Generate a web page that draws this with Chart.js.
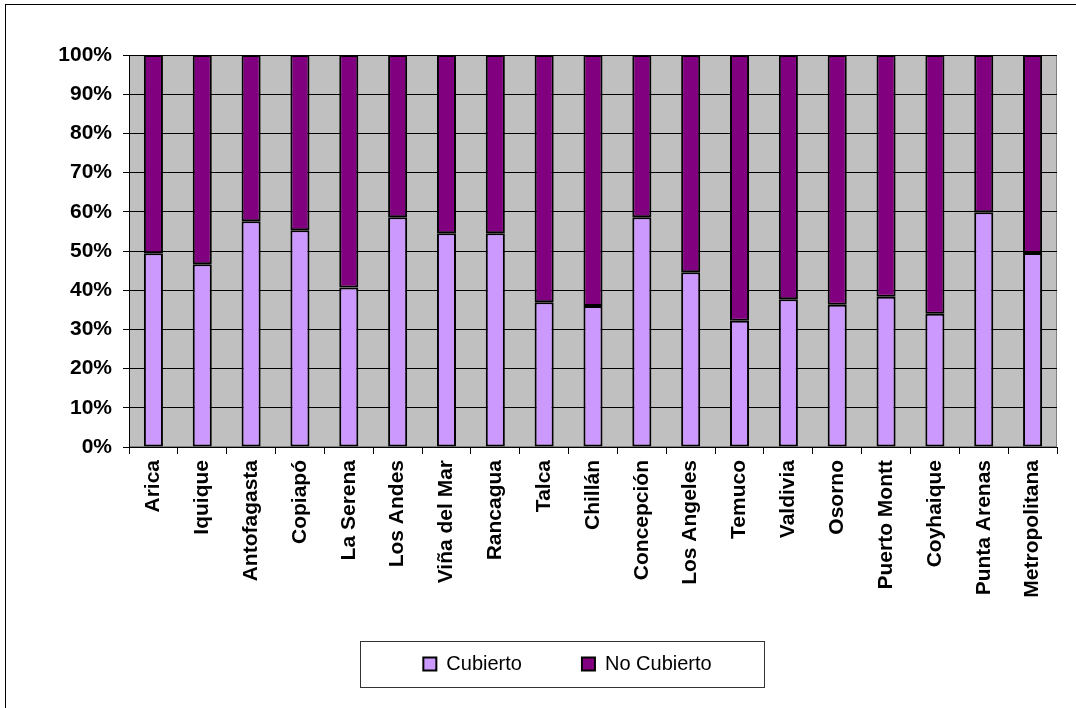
<!DOCTYPE html>
<html>
<head>
<meta charset="utf-8">
<script src="https://cdn.jsdelivr.net/npm/chart.js@4/dist/chart.umd.min.js"></script>
<style>
  html, body { margin: 0; padding: 0; background: #fff; }
  #wrap { width: 1076px; height: 708px; position: relative; }
</style>
</head>
<body>
<div id="wrap"><canvas id="chart" width="1076" height="708"></canvas></div>
<script>
"use strict";

// Ciudades (categorías)
const ciudades = ["Arica", "Iquique", "Antofagasta", "Copiapó", "La Serena", "Los Andes",
    "Viña del Mar", "Rancagua", "Talca", "Chillán", "Concepción", "Los Angeles", "Temuco",
    "Valdivia", "Osorno", "Puerto Montt", "Coyhaique", "Punta Arenas", "Metropolitana"];

// Porcentaje cubierto
const cubierto = [49.4, 46.6, 57.6, 55.3, 40.7, 58.6, 54.5, 54.5, 36.9, 36.0,
    58.6, 44.6, 32.2, 37.7, 36.3, 38.3, 34.0, 59.9, 49.5];

// Porcentaje no cubierto
const noCubierto = [50.6, 53.4, 42.4, 44.7, 59.3, 41.4, 45.5, 45.5, 63.1, 64.0,
    41.4, 55.4, 67.8, 62.3, 63.7, 61.7, 66.0, 40.1, 50.5];

// Etiquetas del eje y
const ticksY = [0, 10, 20, 30, 40, 50, 60, 70, 80, 90, 100];

Chart.defaults.font.family = "'Liberation Sans', Arial, sans-serif";
Chart.defaults.color = "#000";

// Fondo gris del área de trazado, marco exterior y marco de la leyenda
const fondoPlugin = {
    id: "fondo",
    afterLayout(chart) {
        // Corre la leyenda un poco (derecha y arriba), como en el original
        const lg = chart.legend;
        lg.left += 14;
        lg.right += 14;
        lg.top -= 10;
        lg.bottom -= 10;
    },
    beforeDraw(chart) {
        const { ctx, chartArea: a } = chart;
        ctx.save();
        ctx.fillStyle = "#fff";
        ctx.fillRect(0, 0, chart.width, chart.height);
        ctx.fillStyle = "#C0C0C0";
        ctx.fillRect(a.left, a.top, a.right - a.left, a.bottom - a.top);
        ctx.strokeStyle = "#808080";
        ctx.lineWidth = 1;
        ctx.strokeRect(a.left + 0.5, a.top + 0.5, a.right - a.left - 1, a.bottom - a.top - 1);
        ctx.restore();
    },
    afterDraw(chart) {
        const { ctx } = chart;
        const lg = chart.legend;
        ctx.save();
        ctx.strokeStyle = "#000";
        ctx.lineWidth = 1;
        ctx.strokeRect(5.5, 4.5, chart.width + 10, chart.height + 10);

        const p = lg.options.labels.padding;
        const inicio = (lg.left + p + lg.right - lg.lineWidths[0]) / 2;
        const fin = inicio + lg.lineWidths[0] - p;
        const centroY = lg.top + p + 10;
        ctx.strokeStyle = "#333";
        ctx.strokeRect(Math.round(inicio - 63) + 0.5, Math.round(centroY - 23) + 0.5,
            Math.round(fin - inicio + 116), 46);
        ctx.restore();
    }
};

new Chart(document.getElementById("chart"), {
    type: "bar",
    data: {
        labels: ciudades,
        datasets: [{
            label: "Cubierto",
            data: cubierto,
            backgroundColor: "#CC99FF",
            borderColor: "#000",
            borderWidth: 2,
            borderSkipped: false,
            categoryPercentage: 1,
            barPercentage: 0.39
        }, {
            label: "No Cubierto",
            data: noCubierto,
            backgroundColor: "#800080",
            borderColor: "#000",
            borderWidth: 2,
            borderSkipped: false,
            categoryPercentage: 1,
            barPercentage: 0.39
        }]
    },
    options: {
        responsive: false,
        animation: false,
        layout: {
            padding: { top: 55, left: 50, right: 19, bottom: 14 }
        },
        plugins: {
            tooltip: { enabled: false },
            legend: {
                position: "bottom",
                labels: {
                    boxWidth: 13,
                    boxHeight: 13,
                    padding: 60,
                    font: { size: 20 },
                    color: "#000"
                }
            }
        },
        scales: {
            x: {
                stacked: true,
                grid: {
                    offset: true,
                    drawOnChartArea: false,
                    drawTicks: true,
                    tickLength: 7,
                    color: "#000"
                },
                border: { color: "#000", width: 1 },
                ticks: {
                    minRotation: 90,
                    maxRotation: 90,
                    autoSkip: false,
                    padding: 6,
                    font: { size: 21, weight: "bold" }
                },
                afterFit(scale) {
                    scale.height = 157;
                }
            },
            y: {
                stacked: true,
                min: 0,
                max: 100,
                afterBuildTicks(scale) {
                    scale.ticks = ticksY.map(v => ({ value: v }));
                },
                grid: {
                    color: "#000",
                    lineWidth: 1,
                    tickLength: 6
                },
                border: { color: "#000", width: 1 },
                ticks: {
                    padding: 11,
                    font: { size: 21, weight: "bold" },
                    callback: v => v + "%"
                },
                afterFit(scale) {
                    scale.width = 79;
                }
            }
        }
    },
    plugins: [fondoPlugin]
});
</script>
</body>
</html>
